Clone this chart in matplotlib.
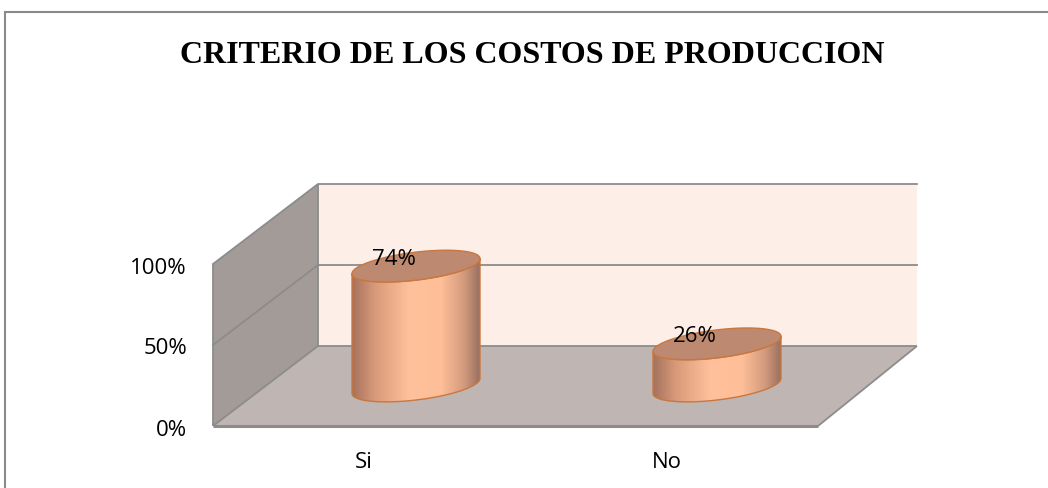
import numpy as np
import matplotlib
matplotlib.use("Agg")
import matplotlib.pyplot as plt
from matplotlib.patches import Polygon
import matplotlib.colors as mcolors

# ---- data ----
categories = ["Si", "No"]
values = [74, 26]
value_labels = ["74%", "26%"]
tick_values = [0, 50, 100]
tick_labels = ["0%", "50%", "100%"]
title = "CRITERIO DE LOS COSTOS DE PRODUCCION"

# ---- layout (pixel space of the canvas) ----
W, H = 1048, 489
ORIGIN = np.array([213.0, 427.0])    # front-left-bottom corner of plot box
FRONT_W = 605.0                       # width of front edge
BACK_W = 599.0                        # width of back edge (slight perspective)
V_PX = 1.62                           # px per percent
DEPTH = np.array([105.0, -80.0])      # offset front -> back
VMAX = 100
n = len(categories)

def proj(u, v, d):
    width = FRONT_W + (BACK_W - FRONT_W) * d
    return (ORIGIN[0] + u * width / n + d * DEPTH[0],
            ORIGIN[1] - v * V_PX + d * DEPTH[1])

fig = plt.figure(figsize=(W / 100, H / 100), dpi=100)
ax = fig.add_axes([0, 0, 1, 1])
ax.set_xlim(0, W)
ax.set_ylim(H, 0)
ax.axis("off")

EDGE = "#8c8c8c"

# chart border
ax.plot([4.5, 4.5, W + 5], [H + 5, 12.5, 12.5], color="#8a8a8a", lw=1.5,
        solid_joinstyle="miter", zorder=1)

# back wall
bw = [proj(0, 0, 1), proj(n, 0, 1), proj(n, VMAX, 1), proj(0, VMAX, 1)]
ax.add_patch(Polygon(bw, closed=True, fc="#fdeee8", ec="none", zorder=2))
# left wall
lw_ = [proj(0, 0, 0), proj(0, 0, 1), proj(0, VMAX, 1), proj(0, VMAX, 0)]
ax.add_patch(Polygon(lw_, closed=True, fc="#a29b98", ec="none", zorder=2))
# floor
fl = [proj(0, 0, 0), proj(n, 0, 0), proj(n, 0, 1), proj(0, 0, 1)]
ax.add_patch(Polygon(fl, closed=True, fc="#bfb6b3", ec="none", zorder=2))

# gridlines (back wall + left wall)
for tv in tick_values:
    if tv == 0:
        continue
    x0, y0 = proj(0, tv, 0)
    x1, y1 = proj(0, tv, 1)
    x2, y2 = proj(n, tv, 1)
    ax.plot([x0, x1, x2], [y0, y1, y2], color=EDGE, lw=1.3, zorder=3)

def seg(p, q, lw=1.3):
    ax.plot([p[0], q[0]], [p[1], q[1]], color=EDGE, lw=lw, zorder=3,
            solid_capstyle="butt")
seg(proj(0, 0, 0), proj(0, VMAX, 0))
seg(proj(0, 0, 1), proj(0, VMAX, 1))
seg(proj(0, 0, 0), proj(0, 0, 1))
seg(proj(0, 0, 1), proj(n, 0, 1))
seg(proj(n, 0, 0), proj(n, 0, 1))
seg(proj(0, 0, 0), proj(n, 0, 0), lw=2.2)

FONT = "Open Sans"
# y tick labels
for tv, tl in zip(tick_values, tick_labels):
    x, y = proj(0, tv, 0)
    ax.text(x - 26, y + 8.5, tl, ha="right", va="baseline", fontsize=16,
            family=FONT, color="#000000", zorder=5)

# category labels
for i, c in enumerate(categories):
    x, y = proj(i + 0.5, 0, 0)
    ax.text(x, y + 41, c, ha="center", va="baseline", fontsize=16,
            family=FONT, color="#000000", zorder=5)

# cylinders
R_PX = 64.0      # semi-major axis (px)
B_PX = 14.0      # semi-minor (px)
TILT = 7.5       # shear of the ellipse (px)
side_cmap = mcolors.LinearSegmentedColormap.from_list(
    "side", [(0.0, "#a5725d"), (0.18, "#d99a7a"), (0.45, "#ffc19b"),
             (0.7, "#fdbe98"), (0.88, "#d29a7c"), (1.0, "#9a7060")])
t_front = np.linspace(0, np.pi, 80)
t_full = np.linspace(0, 2 * np.pi, 160)

for i, val in enumerate(values):
    cx, cyb = proj(i + 0.5, 0, 0.5)
    _, cyt = proj(i + 0.5, val, 0.5)

    def ell(cy, t):
        return cx + R_PX * np.cos(t), cy - TILT * np.cos(t) + B_PX * np.sin(t)

    xt, yt = ell(cyt, t_front)
    xb, yb = ell(cyb, t_front[::-1])
    side = np.column_stack([np.r_[xt, xb], np.r_[yt, yb]])
    side_patch = Polygon(side, closed=True, fc="none", ec="#c8773f", lw=1.0,
                         zorder=7)
    ax.add_patch(side_patch)
    grad = np.linspace(0, 1, 256).reshape(1, -1)
    im = ax.imshow(grad, cmap=side_cmap, aspect="auto",
                   extent=(cx - R_PX, cx + R_PX, cyb + 30, cyt - 30),
                   zorder=6, interpolation="bilinear")
    im.set_clip_path(side_patch)

    xe, ye = ell(cyt, t_full)
    ax.add_patch(Polygon(np.column_stack([xe, ye]), closed=True,
                         fc="#bd8a71", ec="#c8773f", lw=1.0, zorder=8))

    ax.text(cx - 22, cyt - 2.5, value_labels[i], ha="center", va="baseline",
            fontsize=16, family=FONT, color="#000000", zorder=9)

ax.set_xlim(0, W)
ax.set_ylim(H, 0)

# title
ax.text(532, 63, title, ha="center", va="baseline", fontsize=23,
        family="Liberation Serif", fontweight="bold", color="#000000",
        zorder=5)

fig.savefig("out.png", dpi=100)
